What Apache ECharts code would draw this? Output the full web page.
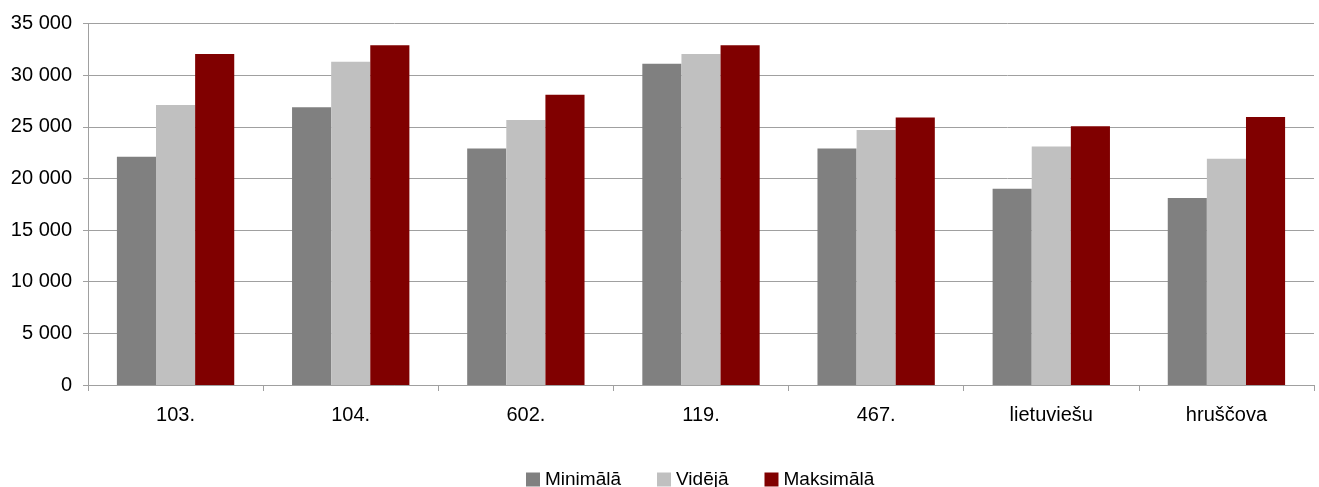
<!DOCTYPE html>
<html><head><meta charset="utf-8">
<script src="https://cdn.jsdelivr.net/npm/echarts@6/dist/echarts.min.js"></script>
<style>html,body{margin:0;padding:0;background:#fff}#c{width:1319px;height:487px}</style>
</head><body><div id="c"></div>
<script>
const categories = ['103.', '104.', '602.', '119.', '467.', 'lietuviešu', 'hruščova'];
const minimala = [22100, 26900, 22900, 31100, 22900, 19000, 18100];
const videja = [27100, 31300, 25650, 32050, 24700, 23100, 21900];
const maksimala = [32050, 32900, 28100, 32900, 25900, 25050, 25950];
const seriesNames = ['Minimālā', 'Vidējā', 'Maksimālā'];
const yTicks = {min: 0, max: 35000, interval: 5000};

const font = 'Liberation Sans, Arial, sans-serif';
const chart = echarts.init(document.getElementById('c'));
const fmt = v => String(v).replace(/\B(?=(\d{3})+(?!\d))/g, ' ');
chart.setOption({
  animation: false,
  grid: {left: 88, right: 5, top: 23.5, bottom: 102, containLabel: false},
  legend: {
    top: 470, left: 526, padding: 0,
    itemWidth: 14, itemHeight: 14, itemGap: 36,
    icon: 'rect',
    textStyle: {fontFamily: font, fontSize: 19, color: '#000'},
    data: seriesNames
  },
  xAxis: {
    type: 'category', data: categories,
    axisLine: {lineStyle: {color: '#a0a0a0', width: 1}},
    axisTick: {show: true, length: 6, lineStyle: {color: '#a0a0a0'}},
    axisLabel: {fontFamily: font, fontSize: 20, color: '#000', margin: 20}
  },
  yAxis: {
    type: 'value', min: yTicks.min, max: yTicks.max, interval: yTicks.interval,
    axisLine: {show: true, lineStyle: {color: '#a0a0a0', width: 1}},
    axisTick: {show: true, length: 5, lineStyle: {color: '#a0a0a0'}},
    splitLine: {lineStyle: {color: '#a0a0a0', width: 1}},
    axisLabel: {fontFamily: font, fontSize: 20, color: '#000', margin: 16, formatter: fmt}
  },
  series: [
    {name: seriesNames[0], type: 'bar', data: minimala, itemStyle: {color: '#808080'}, barGap: '0%', barCategoryGap: '33%'},
    {name: seriesNames[1], type: 'bar', data: videja, itemStyle: {color: '#c0c0c0'}, barGap: '0%', barCategoryGap: '33%'},
    {name: seriesNames[2], type: 'bar', data: maksimala, itemStyle: {color: '#800000'}, barGap: '0%', barCategoryGap: '33%'}
  ]
});
</script></body></html>
